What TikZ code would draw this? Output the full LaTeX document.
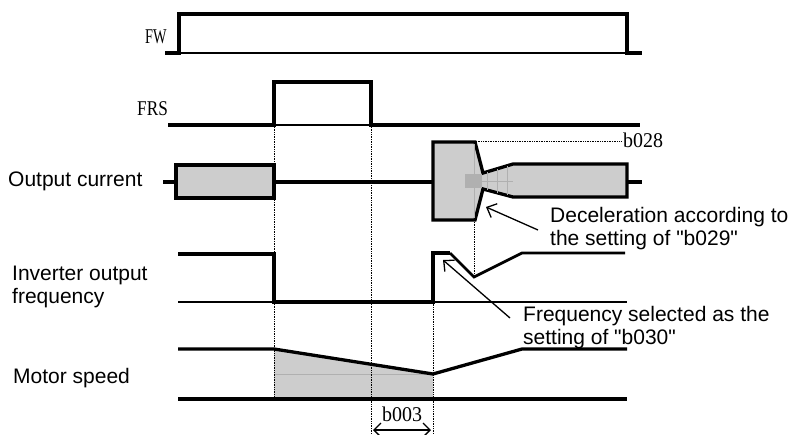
\documentclass[tikz,border=0pt]{standalone}
\usepackage{fontspec}
\setmainfont[Ligatures=TeXOff]{Liberation Sans}
\newfontfamily\minch{Liberation Serif}
\usetikzlibrary{arrows.meta}
\definecolor{cshade}{HTML}{CDCDCD}
\definecolor{cshadedark}{HTML}{B0B0B0}
\begin{document}
\begin{tikzpicture}[x=1pt,y=-1pt,
  thk/.style={line width=3.3pt},
  med/.style={line width=2.8pt},
  thn/.style={line width=1.3pt},
  guide/.style={line width=0.7pt, densely dotted},
  lab/.style={font=\fontsize{21}{23}\selectfont, inner sep=0pt, anchor=base west},
  slab/.style={font=\minch\fontsize{21}{23}\selectfont, inner sep=0pt, anchor=base west},
  callout/.style={line width=1.3pt, -{Straight Barb[length=8pt,width=15pt,line width=1.3pt]}},
  sfill/.style={fill=cshade}
]
\useasboundingbox (0,0) rectangle (792,434);

% ---------- FW ----------
\node[slab] (fw) at (145,43) {\scalebox{0.68}[1]{FW}};
\draw[thn] (179,53) -- (627,53);
\draw[thk] (165,53) -- (179,53) -- (179,14) -- (627,14) -- (627,53) -- (642,53);

% ---------- FRS ----------
\node[slab] (frs) at (137,115) {\scalebox{0.82}[1]{FRS}};
\draw[thn] (274,125) -- (371,125);
\draw[thk] (168,125) -- (274,125) -- (274,82) -- (371,82) -- (371,125) -- (640,125);

% ---------- Output current ----------
\node[lab] (oc) at (8,186) {Output current};
\draw[thk] (163,182) -- (176,182);
\draw[thk] (274,182) -- (433,182);
\draw[thk] (627,182) -- (642,182);
\draw[thk, sfill] (176,165) rectangle (274,198);
\draw[thk, sfill] (433,142) -- (475,142) -- (483,173) -- (513,164) -- (627,164)
   -- (627,197) -- (513,197) -- (483,189) -- (475,220) -- (433,220) -- cycle;
\fill[cshadedark] (465,174) rectangle (482,188);
\draw[line width=0.5pt, cshadedark] (465,181) -- (513,181);
\draw[line width=0.5pt, cshadedark] (487,172) -- (487,190) (497,169) -- (497,193) (507,166) -- (507,195);
\draw[line width=0.5pt, cshadedark] (474,144) -- (474,218);
\draw[guide] (476,141) -- (622,141);
\node[slab] (b028) at (623,147) {\scalebox{0.95}[1]{b028}};

% ---------- Inverter output frequency ----------
\node[lab] (iof1) at (12,280) {Inverter output};
\node[lab] (iof2) at (12,303) {frequency};
\draw[thn] (178,302) -- (627,302);
\draw[thk] (178,254) -- (274,254) -- (274,302) -- (433,302) -- (433,253) -- (450,253);
\draw[med] (450,253) -- (474,277) -- (522,253) -- (625,253);

% ---------- Motor speed ----------
\node[lab] (ms) at (13,383) {Motor speed};
\fill[cshade] (274,349) -- (433,374) -- (433,399) -- (274,399) -- cycle;
\draw[line width=0.6pt, cshadedark] (274,374) -- (433,374);
\draw[thk] (178,349) -- (274,349) -- (433,374) -- (522,349) -- (627,349);
\draw[thk] (178,399) -- (627,399);

% ---------- guide lines ----------
\draw[guide] (274,127) -- (274,399);
\draw[guide] (371,127) -- (371,434);
\draw[guide] (433,302) -- (433,434);
\draw[guide] (474,222) -- (474,276);

% ---------- b003 ----------
\node[slab] (b003) at (382,421) {\scalebox{0.95}[1]{b003}};
\coordinate (b3l) at (373,430);
\coordinate (b3r) at (431,430);
\draw[line width=1.3pt, {Straight Barb[length=7pt,width=14pt,line width=1.3pt]}-{Straight Barb[length=7pt,width=14pt,line width=1.3pt]}] (b3l) -- (b3r);

% ---------- callouts ----------
\node[lab] (dec1) at (550,222) {Deceleration according to};
\node[lab] (dec2) at (550,245) {the setting of "b029"};
\coordinate (decs) at (538,230);
\coordinate (dect) at (486,207);
\draw[callout] (decs) -- (dect);

\node[lab] (fr1) at (523,321) {Frequency selected as the};
\node[lab] (fr2) at (523,344) {setting of "b030"};
\coordinate (frs0) at (510,318);
\coordinate (frt) at (443,260);
\draw[callout] (frs0) -- (frt);
\end{tikzpicture}
\end{document}
